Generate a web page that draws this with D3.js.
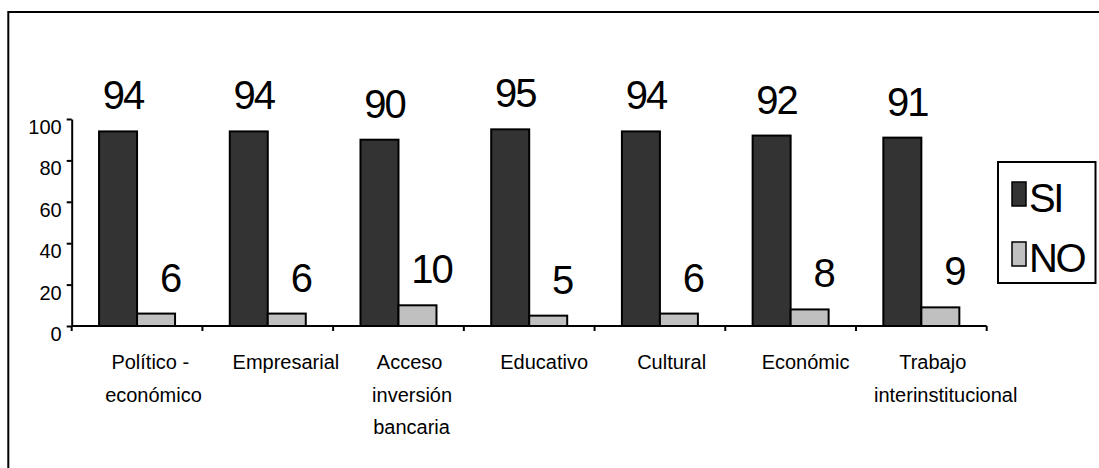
<!DOCTYPE html>
<html>
<head>
<meta charset="utf-8">
<script src="https://cdn.jsdelivr.net/npm/d3@7"></script>
<style>
  html, body { margin: 0; padding: 0; background: #fff; }
  svg { display: block; font-family: "Liberation Sans", Arial, sans-serif; }
</style>
</head>
<body>
<svg id="chart" width="1099" height="468"></svg>
<script>
// Categories (each entry is the list of lines of its axis label)
const categories = [
  ["Político -", "económico"],
  ["Empresarial"],
  ["Acceso", "inversión", "bancaria"],
  ["Educativo"],
  ["Cultural"],
  ["Económic"],
  ["Trabajo", "interinstitucional"]
];
const seriesNames = ["SI", "NO"];
const siValues = [94, 94, 90, 95, 94, 92, 91];
const noValues = [6, 6, 10, 5, 6, 8, 9];
const yTicks = [0, 20, 40, 60, 80, 100];

const seriesValues = { SI: siValues, NO: noValues };
const seriesFill = { SI: "#333333", NO: "#c0c0c0" };
const labelShift = { SI: 5, NO: 14 };

const svg = d3.select("#chart");
const catKeys = categories.map(c => c.join(" "));

const plot = { left: 71.7, right: 986.7, top: 119, bottom: 326 };

const x0 = d3.scaleBand().domain(catKeys).range([plot.left, plot.right]).padding(0);
const x1 = d3.scaleBand().domain(seriesNames).range([0, x0.bandwidth()])
  .paddingInner(0).paddingOuter(0.72);
const y = d3.scaleLinear().domain([0, 100]).range([plot.bottom, plot.top]);

// Outer frame
svg.append("rect")
  .attr("x", 8.3).attr("y", 12).attr("width", 1200).attr("height", 600)
  .attr("fill", "none").attr("stroke", "#000").attr("stroke-width", 2);

// Bars
const rows = catKeys.map((k, i) => ({ key: k, i }));
const groups = svg.append("g").selectAll("g").data(rows).join("g")
  .attr("transform", d => `translate(${x0(d.key)},0)`);

groups.selectAll("rect")
  .data(d => seriesNames.map(s => ({ s, v: seriesValues[s][d.i] })))
  .join("rect")
  .attr("x", d => x1(d.s))
  .attr("y", d => y(d.v))
  .attr("width", x1.bandwidth())
  .attr("height", d => y(0) - y(d.v))
  .attr("fill", d => seriesFill[d.s])
  .attr("stroke", "#000")
  .attr("stroke-width", 2);

// Value labels
groups.selectAll("text.val")
  .data(d => seriesNames.map(s => ({ s, v: seriesValues[s][d.i] })))
  .join("text")
  .attr("class", "val")
  .attr("x", d => x1(d.s) + x1.bandwidth() / 2 + labelShift[d.s])
  .attr("y", d => y(d.v) - 22)
  .attr("text-anchor", "middle")
  .attr("font-size", 40)
  .attr("letter-spacing", -2)
  .attr("fill", "#000")
  .text(d => d.v);

// Y axis
const yAxis = d3.axisLeft(y).tickValues(yTicks).tickSize(5).tickSizeOuter(0).tickPadding(5);
const gy = svg.append("g").attr("transform", `translate(${plot.left},0)`).call(yAxis);
gy.select(".domain").attr("stroke", "#000").attr("stroke-width", 2);
gy.selectAll(".tick line").attr("stroke", "#000").attr("stroke-width", 2);
gy.selectAll(".tick text")
  .attr("font-size", 20)
  .attr("font-family", "Liberation Sans, Arial, sans-serif")
  .attr("fill", "#000")
  .attr("x", -10)
  .attr("dy", "0.72em");

// X axis (ticks at category boundaries)
const gx = svg.append("g").attr("transform", `translate(0,${plot.bottom})`);
gx.append("line")
  .attr("x1", plot.left).attr("x2", plot.right)
  .attr("stroke", "#000").attr("stroke-width", 2);
const bounds = catKeys.map(k => x0(k)).concat([plot.right]);
gx.selectAll("line.tk").data(bounds).join("line")
  .attr("class", "tk")
  .attr("x1", d => d).attr("x2", d => d)
  .attr("y1", 0).attr("y2", 5)
  .attr("stroke", "#000").attr("stroke-width", 2);

// Category labels
const catText = gx.selectAll("text.cat").data(rows).join("text")
  .attr("class", "cat")
  .attr("font-size", 20)
  .attr("fill", "#000")
  .attr("text-anchor", "middle");
catText.each(function (d) {
  const t = d3.select(this);
  const cx = x0(d.key) + x0.bandwidth() / 2;
  categories[d.i].forEach((line, j) => {
    const ts = t.append("tspan")
      .attr("x", cx)
      .attr("y", 43.3 + j * 32.5)
      .text(line);
    const w = ts.node().getComputedTextLength();
    ts.attr("x", cx + 0.17 * w);
  });
});

// Legend
const legend = svg.append("g");
legend.append("rect")
  .attr("x", 998).attr("y", 162).attr("width", 97.5).attr("height", 121)
  .attr("fill", "#fff").attr("stroke", "#000").attr("stroke-width", 2);
const legY = d3.scalePoint().domain(seriesNames).range([194, 254]);
const item = legend.selectAll("g").data(seriesNames).join("g")
  .attr("transform", d => `translate(1012,${legY(d)})`);
item.append("rect")
  .attr("x", 0).attr("y", -12).attr("width", 14).attr("height", 24)
  .attr("fill", d => seriesFill[d]).attr("stroke", "#000").attr("stroke-width", 1.5);
item.append("text")
  .attr("x", 17).attr("y", 18)
  .attr("font-size", 40)
  .attr("letter-spacing", -2.5)
  .attr("fill", "#000")
  .text(d => d);
</script>
</body>
</html>
